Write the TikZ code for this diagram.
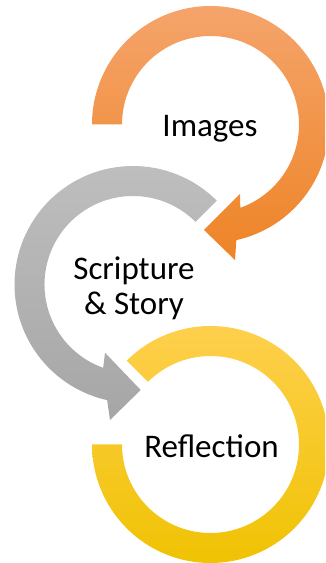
\documentclass[tikz,border=0pt]{standalone}
\usepackage{fontspec}
\setmainfont{Carlito}
\usetikzlibrary{calc}
\definecolor{orTop}{HTML}{F5A46B}
\definecolor{orBot}{HTML}{EE8426}
\definecolor{grTop}{HTML}{BFBFBF}
\definecolor{grBot}{HTML}{A6A6A6}
\definecolor{yeTop}{HTML}{FFD050}
\definecolor{yeBot}{HTML}{EFC200}
\tikzset{
  orangearrow/.style={top color=orTop, bottom color=orBot, draw=none},
  grayarrow/.style={top color=grTop, bottom color=grBot, draw=none},
  yellowarrow/.style={top color=yeTop, bottom color=yeBot, draw=none},
  label/.style={font=\fontsize{33}{36}\selectfont, text=black, inner sep=0pt, anchor=base}
}
\begin{document}
\begin{tikzpicture}[x=1pt,y=1pt]
\useasboundingbox (0,0) rectangle (325,563);
\clip (0,0) rectangle (325,563);
\coordinate (O) at (210.5,438.5);
\coordinate (G) at (133,278.5);
\coordinate (Y) at (210.5,118.5);
% orange circular arrow
\path[orangearrow] ($(O)+(180:118.5)$) arc[start angle=180,end angle=-77.4,radius=118.5]
  -- ($(O)+(24.5,-135.5)$) -- ($(O)+(-6.5,-105.5)$) -- ($(O)+(29.5,-69.5)$)
  -- ($(O)+(-70.3:88.5)$) arc[start angle=-70.3,end angle=180,radius=88.5] -- cycle;
% gray circular arrow
\path[grayarrow] ($(G)+(45:118.5)$) arc[start angle=45,end angle=257.4,radius=118.5]
  -- ($(G)+(-23,-135.5)$) -- ($(G)+(7.7,-105.5)$) -- ($(G)+(-28,-68.2)$)
  -- ($(G)+(250.3:88.5)$) arc[start angle=250.3,end angle=45,radius=88.5] -- cycle;
% yellow circular arc
\path[yellowarrow] ($(Y)+(135:118.5)$) arc[start angle=135,end angle=-180,radius=118.5]
  -- ($(Y)+(-180:88.5)$) arc[start angle=-180,end angle=135,radius=88.5] -- cycle;
% labels
\node[label] (images) at (210,426) {Images};
\node[label] (scripture) at (134,283) {Scripture};
\node[label] (story) at (134,248) {\& Story};
\node[label] (reflection) at (211.5,105) {Reflection};
\end{tikzpicture}
\end{document}
